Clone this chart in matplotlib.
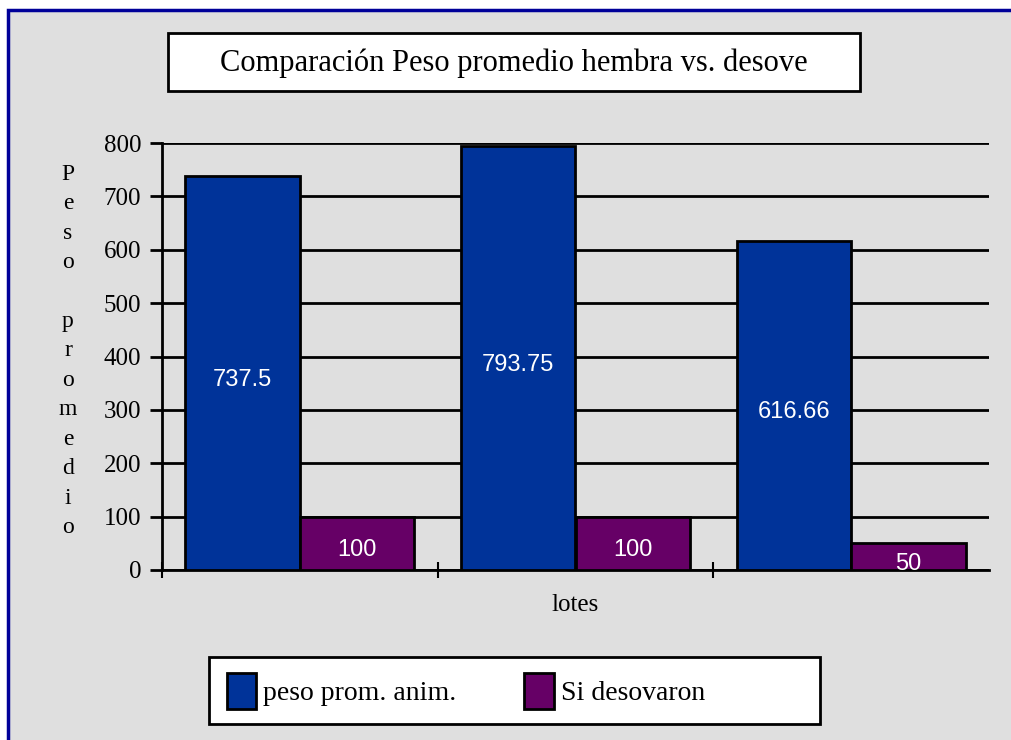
import matplotlib
matplotlib.use("Agg")
import matplotlib.pyplot as plt
from matplotlib.patches import Rectangle, Patch
import numpy as np

categories = ["1", "2", "3"]
peso_prom = [737.5, 793.75, 616.66]
si_desovaron = [100, 100, 50]
value_labels_peso = ["737.5", "793.75", "616.66"]
value_labels_des = ["100", "100", "50"]
yticks = [0, 100, 200, 300, 400, 500, 600, 700, 800]
series_names = ["peso prom. anim.", "Si desovaron"]
title = "Comparación Peso promedio hembra vs. desove"
ylabel = "Peso promedio"
xlabel = "lotes"

BLUE = "#003399"
PURPLE = "#660066"
BG = "#DFDFDF"
SERIF = "Liberation Serif"
SANS = "Liberation Sans"

W, H = 1011, 740
fig = plt.figure(figsize=(W / 100, H / 100), dpi=100, facecolor="white")

def fx(px):
    return px / W

def fy(py):
    return 1 - py / H

# outer panel with navy border
fig.patches.append(Rectangle((fx(8), fy(760)), fx(1030) - fx(8), fy(10) - fy(760),
                             transform=fig.transFigure, facecolor=BG,
                             edgecolor="#000099", linewidth=2.5, zorder=-5))

ax = fig.add_axes([fx(162), fy(570), fx(989) - fx(162), fy(143) - fy(570)])
ax.patch.set_alpha(0)
ax.set_zorder(1)

x = np.arange(len(categories))
w = 0.415
b1 = ax.bar(x - w / 2, peso_prom, w, color=BLUE, edgecolor="black", linewidth=2, zorder=3)
b2 = ax.bar(x + w / 2, si_desovaron, w, color=PURPLE, edgecolor="black", linewidth=2, zorder=3)

for bars, labs in ((b1, value_labels_peso), (b2, value_labels_des)):
    for rect, lab in zip(bars, labs):
        ax.annotate(lab, (rect.get_x() + rect.get_width() / 2, rect.get_height() / 2),
                    xytext=(0, -5), textcoords="offset points",
                    ha="center", va="center", color="white", fontsize=17,
                    family=SANS, zorder=4)

ax.set_xlim(-0.5, len(categories) - 0.5)
ax.set_ylim(0, 800)
ax.set_yticks(yticks)
ax.set_yticklabels([str(t) for t in yticks], family=SERIF, fontsize=18)
ax.yaxis.grid(True, color="black", linewidth=2, zorder=1)
ax.set_axisbelow(True)
ax.tick_params(axis="y", direction="out", length=9, width=2, pad=6)

ax.set_xticks(np.arange(-0.5, len(categories) - 0.5, 1.0))
ax.set_xticklabels([])
ax.tick_params(axis="x", direction="inout", length=12, width=1.5)

for s in ["top", "right"]:
    ax.spines[s].set_visible(False)
ax.spines["left"].set_linewidth(2)
ax.spines["bottom"].set_linewidth(2)

ax.set_xlabel(xlabel, family=SERIF, fontsize=18)
ax.xaxis.set_label_coords(0.5, -0.056)

# stacked vertical y label
stacked = "\n".join(list(ylabel))
fig.text(fx(68), fy(351), stacked, ha="center", va="center", family=SERIF,
         fontsize=17, linespacing=1.53)

# title box
fig.patches.append(Rectangle((fx(168), fy(91)), fx(860) - fx(168), fy(33) - fy(91),
                             transform=fig.transFigure, facecolor="white",
                             edgecolor="black", linewidth=2, zorder=2))
fig.text((fx(168) + fx(860)) / 2, fy(63), title, ha="center", va="center",
         family=SERIF, fontsize=22, zorder=3)

# legend box
fig.patches.append(Rectangle((fx(209), fy(724)), fx(820) - fx(209), fy(657) - fy(724),
                             transform=fig.transFigure, facecolor="white",
                             edgecolor="black", linewidth=2, zorder=2))
handles = [Patch(facecolor=BLUE, edgecolor="black", linewidth=2),
           Patch(facecolor=PURPLE, edgecolor="black", linewidth=2)]
leg = fig.legend(handles, series_names, loc="center left",
                 bbox_to_anchor=(fx(227), fy(691)), ncol=2, frameon=False,
                 prop={"family": SERIF, "size": 20}, handlelength=1.05,
                 handleheight=1.65, handletextpad=0.25, columnspacing=2.45,
                 borderaxespad=0, borderpad=0)
leg.set_zorder(4)

fig.savefig("out.png", dpi=100, facecolor="white")
